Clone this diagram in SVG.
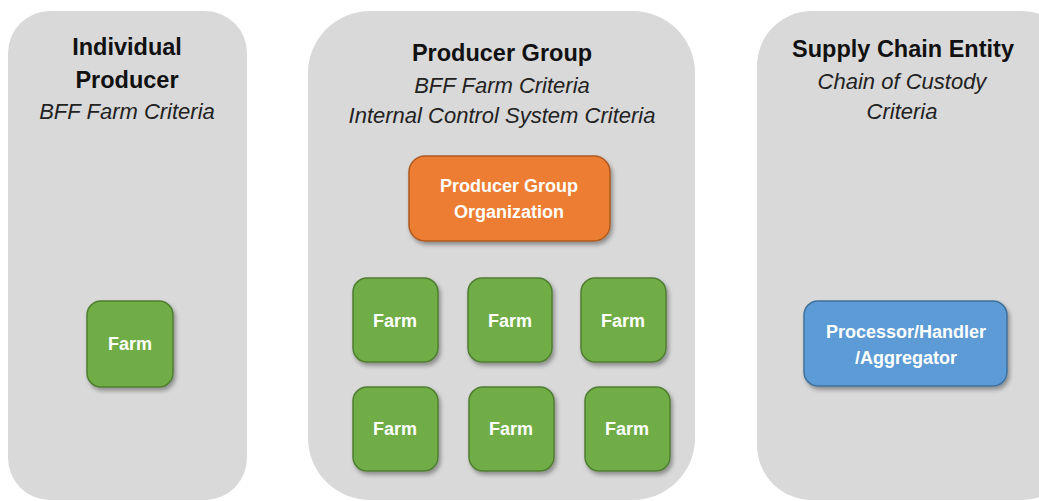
<svg xmlns="http://www.w3.org/2000/svg" width="1039" height="501" viewBox="0 0 1039 501">
<defs>
<filter id="sh" x="-20%" y="-20%" width="150%" height="150%">
<feDropShadow dx="2" dy="3" stdDeviation="2" flood-color="#000" flood-opacity="0.35"/>
</filter>
<style>
.panel{fill:#d9d9d9}
.title{font-family:"Liberation Sans",Arial,sans-serif;font-weight:bold;font-size:23.5px;fill:#111;text-anchor:middle}
.sub{font-family:"Liberation Sans",Arial,sans-serif;font-style:italic;font-size:22px;fill:#222;text-anchor:middle}
.lbl{font-family:"Liberation Sans",Arial,sans-serif;font-weight:bold;font-size:18px;fill:#fff;text-anchor:middle}
.farm{fill:#70ad47;stroke:#507e32;stroke-width:1.5;filter:url(#sh)}
.org{fill:#ed7d31;stroke:#ae5a21;stroke-width:1.5;filter:url(#sh)}
.proc{fill:#5b9bd5;stroke:#41719c;stroke-width:1.5;filter:url(#sh)}
</style>
</defs>
<g id="panel-individual">
<rect class="panel" x="8" y="11" width="239" height="489" rx="42"/>
<text class="title" x="127" y="55">Individual</text>
<text class="title" x="127" y="88">Producer</text>
<text class="sub" x="127" y="119">BFF Farm Criteria</text>
</g>
<g id="panel-group">
<rect class="panel" x="308" y="11" width="387" height="489" rx="62"/>
<text class="title" x="502" y="61">Producer Group</text>
<text class="sub" x="502" y="93">BFF Farm Criteria</text>
<text class="sub" x="502" y="123">Internal Control System Criteria</text>
</g>
<g id="panel-supply">
<rect class="panel" x="757" y="11" width="320" height="489" rx="55"/>
<text class="title" x="903" y="57">Supply Chain Entity</text>
<text class="sub" x="902" y="89">Chain of Custody</text>
<text class="sub" x="902" y="119">Criteria</text>
</g>
<g id="farm-individual">
<rect class="farm" x="87" y="301" width="86" height="86" rx="14"/>
<text class="lbl" x="130" y="350">Farm</text>
</g>
<g id="org">
<rect class="org" x="409" y="156" width="201" height="85" rx="16"/>
<text class="lbl" x="509" y="192">Producer Group</text>
<text class="lbl" x="509" y="218">Organization</text>
</g>
<g id="farm-1">
<rect class="farm" x="353" y="278" width="85" height="84" rx="14"/>
<text class="lbl" x="395" y="327">Farm</text>
</g>
<g id="farm-2">
<rect class="farm" x="468" y="278" width="84" height="84" rx="14"/>
<text class="lbl" x="510" y="327">Farm</text>
</g>
<g id="farm-3">
<rect class="farm" x="581" y="278" width="85" height="84" rx="14"/>
<text class="lbl" x="623" y="327">Farm</text>
</g>
<g id="farm-4">
<rect class="farm" x="353" y="387" width="85" height="84" rx="14"/>
<text class="lbl" x="395" y="435">Farm</text>
</g>
<g id="farm-5">
<rect class="farm" x="469" y="387" width="85" height="84" rx="14"/>
<text class="lbl" x="511" y="435">Farm</text>
</g>
<g id="farm-6">
<rect class="farm" x="585" y="387" width="85" height="84" rx="14"/>
<text class="lbl" x="627" y="435">Farm</text>
</g>
<g id="processor">
<rect class="proc" x="804" y="301" width="203" height="85" rx="14"/>
<text class="lbl" x="906" y="338">Processor/Handler</text>
<text class="lbl" x="906" y="364">/Aggregator</text>
</g>
<g id="connectors"/>
</svg>
